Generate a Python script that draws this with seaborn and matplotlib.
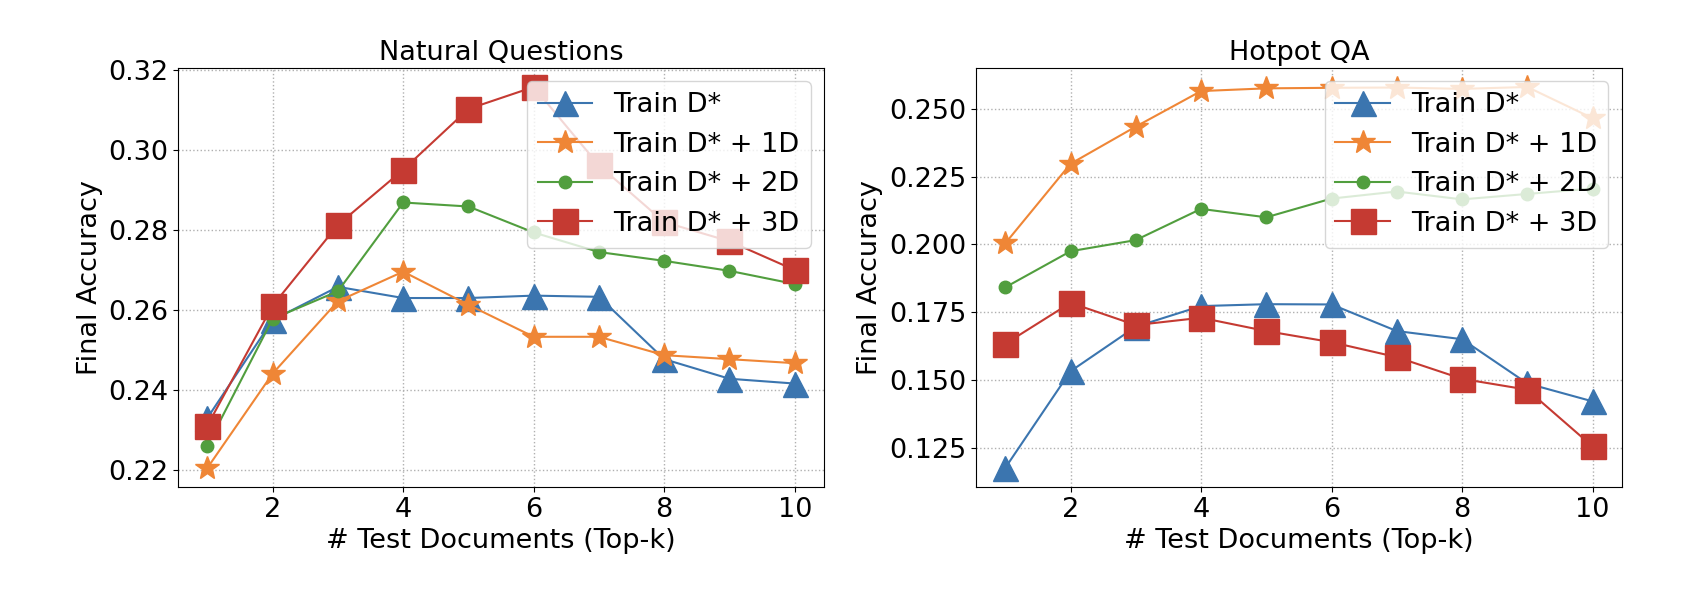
import matplotlib
matplotlib.use('Agg')
import matplotlib.pyplot as plt
import numpy as np
import pandas as pd
import seaborn as sns

top_k = [1, 2, 3, 4, 5, 6, 7, 8, 9, 10]
labels = ['Train D*', 'Train D* + 1D', 'Train D* + 2D', 'Train D* + 3D']

# Natural Questions
nq_d0 = [0.233, 0.2575, 0.2658, 0.263, 0.263, 0.2636, 0.2633, 0.2477, 0.2428, 0.2416]
nq_d1 = [0.2205, 0.2441, 0.2622, 0.2696, 0.2613, 0.2533, 0.2533, 0.2487, 0.2477, 0.2467]
nq_d2 = [0.2261, 0.2578, 0.2647, 0.2869, 0.2859, 0.2794, 0.2745, 0.2723, 0.2698, 0.2665]
nq_d3 = [0.2311, 0.2611, 0.2813, 0.2951, 0.3103, 0.3158, 0.2962, 0.282, 0.2772, 0.270]

# Hotpot QA
hp_d0 = [0.1177, 0.1533, 0.1697, 0.1773, 0.178, 0.1779, 0.1681, 0.1651, 0.1488, 0.1422]
hp_d1 = [0.2004, 0.2297, 0.2434, 0.2565, 0.2575, 0.2577, 0.2578, 0.2573, 0.258, 0.2465]
hp_d2 = [0.1842, 0.1975, 0.2016, 0.2131, 0.21, 0.2169, 0.2195, 0.2166, 0.2186, 0.2206]
hp_d3 = [0.1634, 0.1785, 0.1703, 0.173, 0.1681, 0.164, 0.1585, 0.1505, 0.1465, 0.1256]

colors = ['#3b75af', '#ef8636', '#519e3e', '#c53a32']
markers = ['^', '*', '.', 's']
fs = 19.5


def to_long(series):
    rows = []
    for lab, vals in zip(labels, series):
        for k, v in zip(top_k, vals):
            rows.append({'k': k, 'acc': v, 'model': lab})
    return pd.DataFrame(rows)


plt.rcParams['font.size'] = fs
fig, axs = plt.subplots(1, 2, figsize=(16.86, 5.96), dpi=100)
fig.subplots_adjust(left=0.1056, right=0.962, bottom=0.183, top=0.886, wspace=0.235)

panels = [('Natural Questions', [nq_d0, nq_d1, nq_d2, nq_d3]),
          ('Hotpot QA', [hp_d0, hp_d1, hp_d2, hp_d3])]

for ax, (title, series) in zip(axs, panels):
    df = to_long(series)
    sns.lineplot(data=df, x='k', y='acc', hue='model', style='model',
                 hue_order=labels, style_order=labels,
                 palette=dict(zip(labels, colors)),
                 markers=dict(zip(labels, markers)), dashes=False,
                 markersize=18, markeredgewidth=1, linewidth=1.5, ax=ax)
    for line, c in zip(ax.get_lines(), colors):
        line.set_markeredgecolor(c)
    ax.set_title(title, fontsize=fs)
    ax.set_xlabel('# Test Documents (Top-k)', fontsize=fs)
    ax.set_ylabel('Final Accuracy', fontsize=fs)
    ax.tick_params(labelsize=fs)
    ax.grid(True, linestyle=':', color='#b0b0b0', linewidth=1)
    handles, labs = ax.get_legend_handles_labels()
    for h, c in zip(handles, colors):
        h.set_markeredgecolor(c)
        h.set_markersize(18)
    ax.legend(handles, labs, loc='upper right', fontsize=fs)

plt.savefig('out.png', dpi=100)
